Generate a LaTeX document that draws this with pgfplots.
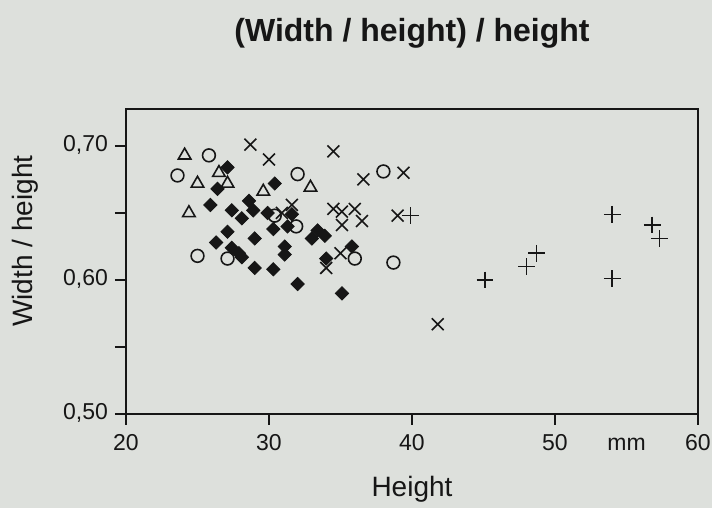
\documentclass[border=0pt]{standalone}
\usepackage{pgfplots}
\pgfplotsset{compat=1.18}
\usepackage{fontspec}
\setmainfont{Liberation Sans}
\definecolor{paper}{RGB}{221,224,220}
\definecolor{ink}{RGB}{22,22,22}

\begin{document}
\begin{tikzpicture}
% page: 1px of the reference = 0.5pt
\path[use as bounding box, fill=paper] (-63pt,-47pt) rectangle (293pt,207pt);
\begin{axis}[
  scale only axis, width=286pt, height=152.5pt,
  xmin=20, xmax=60, ymin=0.5, ymax=0.7276,
  clip=false,
  xtick={20,30,40,50,60},
  ytick={0.5,0.55,0.6,0.65,0.7},
  yticklabels={{0,50},,{0,60},,{0,70}},
  extra x ticks={55}, extra x tick labels={mm},
  extra x tick style={major tick style={draw=none}},
  xtick pos=bottom, ytick pos=left,
  tick align=outside, major tick length=5.5pt,
  tick style={line width=0.8pt, ink},
  axis line style={line width=0.9pt, ink},
  ticklabel style={font=\fontsize{11.5}{13.5}\selectfont, text=ink},
  typeset ticklabels with strut,
  /pgf/number format/assume math mode=true,
  title={(Width / height) / height},
  title style={at={(axis description cs:0.5,1)}, anchor=base, yshift=27.5pt,
    font=\bfseries\fontsize{16}{19}\selectfont, text=ink},
  xlabel={Height},
  xlabel style={at={(axis description cs:0.5,0)}, anchor=base, yshift=-41.5pt,
    font=\fontsize{14}{16}\selectfont, text=ink},
  ylabel={Width / height},
  ylabel style={at={(axis description cs:0,0.567)}, anchor=base, yshift=46.5pt,
    font=\fontsize{14}{16}\selectfont, text=ink},
]

% circles
\addplot[only marks, mark=o, mark size=3.2pt, mark options={line width=0.8pt, ink}] coordinates {
  (25.8,0.693) (23.6,0.678) (25.0,0.618) (27.1,0.616) (32.0,0.679)
  (30.4,0.648) (31.9,0.640) (36.0,0.616) (38.0,0.681) (38.7,0.613)
};

% triangles
\addplot[only marks, mark=triangle, mark size=3.6pt, mark options={line width=0.8pt, ink}] coordinates {
  (24.1,0.693) (25.0,0.672) (26.5,0.680) (27.1,0.672) (24.4,0.650)
  (29.6,0.666) (32.9,0.669)
};

% filled diamonds
\addplot[only marks, mark=square*, mark size=2.35pt, mark options={rotate=45, ink, fill=ink}] coordinates {
  (27.1,0.684) (26.4,0.668) (25.9,0.656) (27.4,0.652) (28.1,0.646)
  (28.6,0.659) (28.9,0.652) (29.0,0.631) (27.1,0.636) (26.3,0.628)
  (27.4,0.624) (27.9,0.620) (28.1,0.617) (29.0,0.609) (30.4,0.672)
  (29.9,0.650) (30.3,0.638) (31.3,0.640) (31.6,0.649) (31.1,0.625)
  (31.1,0.619) (30.3,0.608) (32.0,0.597) (33.0,0.631) (33.4,0.637)
  (33.9,0.633) (35.8,0.625) (34.0,0.616) (35.1,0.590)
};

% crosses
\addplot[only marks, mark=x, mark size=4.2pt, mark options={line width=0.8pt, ink}] coordinates {
  (41.8,0.567) (39.4,0.680) (39.0,0.648) (36.6,0.675) (34.5,0.696)
  (30.0,0.690) (28.7,0.701) (34.5,0.653) (35.1,0.651) (36.0,0.653)
  (35.1,0.641) (36.5,0.644) (31.6,0.656) (30.9,0.650) (35.0,0.620)
  (34.0,0.609)
};

% plus signs
\addplot[only marks, mark=+, mark size=4.2pt, mark options={line width=0.8pt, ink}] coordinates {
  (45.1,0.600) (48.0,0.610) (48.7,0.620) (54.0,0.649) (54.0,0.601)
  (56.8,0.641) (57.3,0.631) (39.9,0.648)
};

\end{axis}
\end{tikzpicture}
\end{document}
